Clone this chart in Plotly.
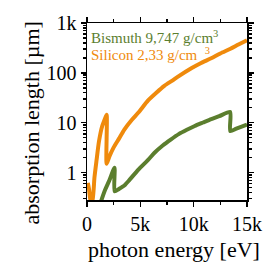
import plotly.graph_objects as go

# Silicon (orange) absorption length [µm] vs photon energy [eV]
si_energy = [80, 200, 350, 500, 700, 900, 1120, 1420, 1650, 1839, 1841, 2100, 2500, 3000, 3500,
             4210, 4820, 5730, 6500, 7250, 8000, 8460, 9820, 10700, 11640, 12500, 13450, 14200, 15000]
si_length = [0.62, 0.45, 0.26, 0.27, 0.8, 1.8, 4.2, 8.5, 11.5, 14.5, 1.5, 2.1, 3.2, 4.8, 7.3,
             11.5, 16, 28, 40, 55, 70, 82, 125, 158, 196, 245, 305, 370, 450]

# Bismuth (green)
bi_energy = [1300, 1700, 2100, 2580, 2590, 3000, 3500, 4000, 4820, 5730, 6330, 7100, 7850, 8600,
             9360, 10100, 10880, 11650, 12400, 13420, 13430, 14000, 15000]
bi_length = [0.26, 0.45, 0.7, 1.25, 0.42, 0.47, 0.55, 0.72, 1.15, 1.8, 2.5, 3.5, 4.6, 5.9,
             7.2, 8.6, 10.1, 11.8, 13.5, 16.5, 6.8, 7.6, 9.2]

x_tickvals = [0, 5000, 10000, 15000]
x_ticktext = ["0", "5k", "10k", "15k"]
y_tickvals = [1, 10, 100, 1000]
y_ticktext = ["1", "10", "100", "1k"]

green = "#5b7e2e"
orange = "#ef8a0c"
font = "Liberation Serif"

fig = go.Figure()
fig.add_trace(go.Scatter(x=si_energy, y=si_length, mode="lines",
                         line=dict(color=orange, width=4, shape="spline", smoothing=0.6),
                         showlegend=False, hoverinfo="skip"))
fig.add_trace(go.Scatter(x=bi_energy, y=bi_length, mode="lines",
                         line=dict(color=green, width=4, shape="spline", smoothing=0.6),
                         showlegend=False, hoverinfo="skip"))

y_minor = [m * 10 ** e for e in range(-1, 3) for m in range(2, 10)]

fig.update_xaxes(range=[0, 15000], tickvals=x_tickvals, ticktext=x_ticktext,
                 ticks="outside", ticklen=5, tickwidth=1.5, tickcolor="black",
                 showline=True, linecolor="black", linewidth=1.5, mirror="allticks",
                 showgrid=False, zeroline=False,
                 minor=dict(tickvals=[2500, 7500, 12500], ticks="outside", ticklen=3,
                            tickcolor="black", showgrid=False),
                 tickfont=dict(family=font, size=20, color="black"))
fig.update_yaxes(type="log", range=[-0.55, 3], tickvals=y_tickvals, ticktext=y_ticktext,
                 ticks="outside", ticklen=5, tickwidth=1.5, tickcolor="black",
                 showline=True, linecolor="black", linewidth=1.5, mirror="allticks",
                 showgrid=False, zeroline=False,
                 minor=dict(tickvals=y_minor, ticks="outside", ticklen=3,
                            tickcolor="black", showgrid=False),
                 tickfont=dict(family=font, size=20, color="black"))

fig.add_annotation(xref="paper", yref="paper", x=0.01, y=0.985, xanchor="left", yanchor="top",
                   text="Bismuth 9,747 g/cm<sup>3</sup>", showarrow=False,
                   font=dict(family=font, size=15, color=green))
fig.add_annotation(xref="paper", yref="paper", x=0.01, y=0.885, xanchor="left", yanchor="top",
                   text="Silicon 2,33 g/cm  <sup>3</sup>", showarrow=False,
                   font=dict(family=font, size=15, color=orange))

fig.add_annotation(xref="paper", yref="paper", x=(177 - 87) / 165, y=-(251 - 200) / 181,
                   xanchor="center", yanchor="middle", text="photon energy [eV]",
                   showarrow=False, font=dict(family=font, size=22, color="black"))
fig.add_annotation(xref="paper", yref="paper", x=(30 - 87) / 165, y=(200 - 121) / 181,
                   xanchor="center", yanchor="middle", text="absorption length [µm]",
                   textangle=-90, showarrow=False, font=dict(family=font, size=22, color="black"))

fig.update_layout(width=274, height=266, margin=dict(l=87, r=22, t=19, b=66),
                  plot_bgcolor="white", paper_bgcolor="white")

fig.write_html("out.html", config={"displayModeBar": False, "staticPlot": True},
               post_script="document.body.style.margin='0';document.body.style.overflow='hidden';")
